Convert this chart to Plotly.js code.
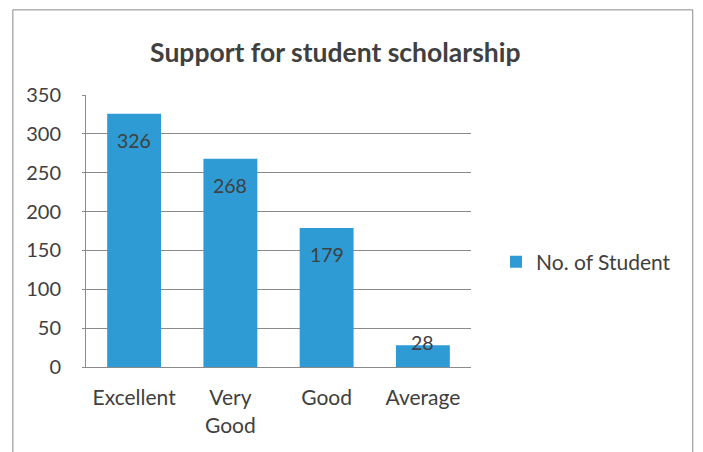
<!DOCTYPE html>
<html><head><meta charset="utf-8">
<script src="https://cdn.plot.ly/plotly-3.0.1.min.js"></script>
<style>html,body{margin:0;padding:0;background:#fff;}#chart{width:703px;height:452px;}</style>
</head><body><div id="chart"></div>
<script>
const categories = ["Excellent", "Very<br>Good", "Good", "Average"];
const students = [326, 268, 179, 28];
const seriesName = "No. of Student";
const yTicks = [0, 50, 100, 150, 200, 250, 300, 350];

const FONT = "Lato, 'Open Sans', sans-serif";
const TXT = "#404040";

const annotations = categories.map((c, i) => ({
  x: c, y: students[i], xref: "x", yref: "y",
  text: String(students[i]), showarrow: false,
  yanchor: "middle", yshift: students[i] > 60 ? -27 : 3,
  font: {family: FONT, size: 19.5, color: TXT}
}));

const data = [{
  type: "bar", x: categories, y: students, name: seriesName,
  marker: {color: "#2E9BD4"}, showlegend: true, hoverinfo: "none"
}];

const layout = {
  width: 703, height: 452,
  margin: {l: 86, r: 232, t: 95, b: 85},
  paper_bgcolor: "#ffffff", plot_bgcolor: "#ffffff",
  font: {family: FONT, color: TXT},
  bargap: 0.44,
  title: {text: "<b>Support for student scholarship</b>", x: 0.477, xanchor: "center", y: 0.883, yanchor: "middle",
          font: {family: FONT, size: 26.5, color: TXT}},
  xaxis: {type: "category", showline: true, linecolor: "#8a8a8a", linewidth: 1, ticks: "",
          tickfont: {family: FONT, size: 21, color: TXT}, ticklabelstandoff: 12, fixedrange: true},
  yaxis: {range: [0, 350], tickvals: yTicks, showgrid: true, gridcolor: "#8a8a8a", gridwidth: 1,
          zeroline: false, showline: true, linecolor: "#8a8a8a", linewidth: 1,
          ticks: "outside", ticklen: 3, tickcolor: "#8a8a8a", ticklabelstandoff: 17,
          tickfont: {family: FONT, size: 20, color: TXT}, fixedrange: true},
  legend: {x: 1.065, y: 0.386, xanchor: "left", yanchor: "middle", font: {family: FONT, size: 21, color: TXT},
           itemwidth: 30, bgcolor: "rgba(0,0,0,0)"},
  annotations: annotations,
  shapes: [{type: "rect", xref: "paper", yref: "paper", x0: -0.19, x1: 1.576, y0: -0.35, y1: 1.313,
            line: {color: "#8a8a8a", width: 1}, fillcolor: "rgba(0,0,0,0)", layer: "below"}]
};
Plotly.newPlot("chart", data, layout, {staticPlot: true, displayModeBar: false});
</script></body></html>
